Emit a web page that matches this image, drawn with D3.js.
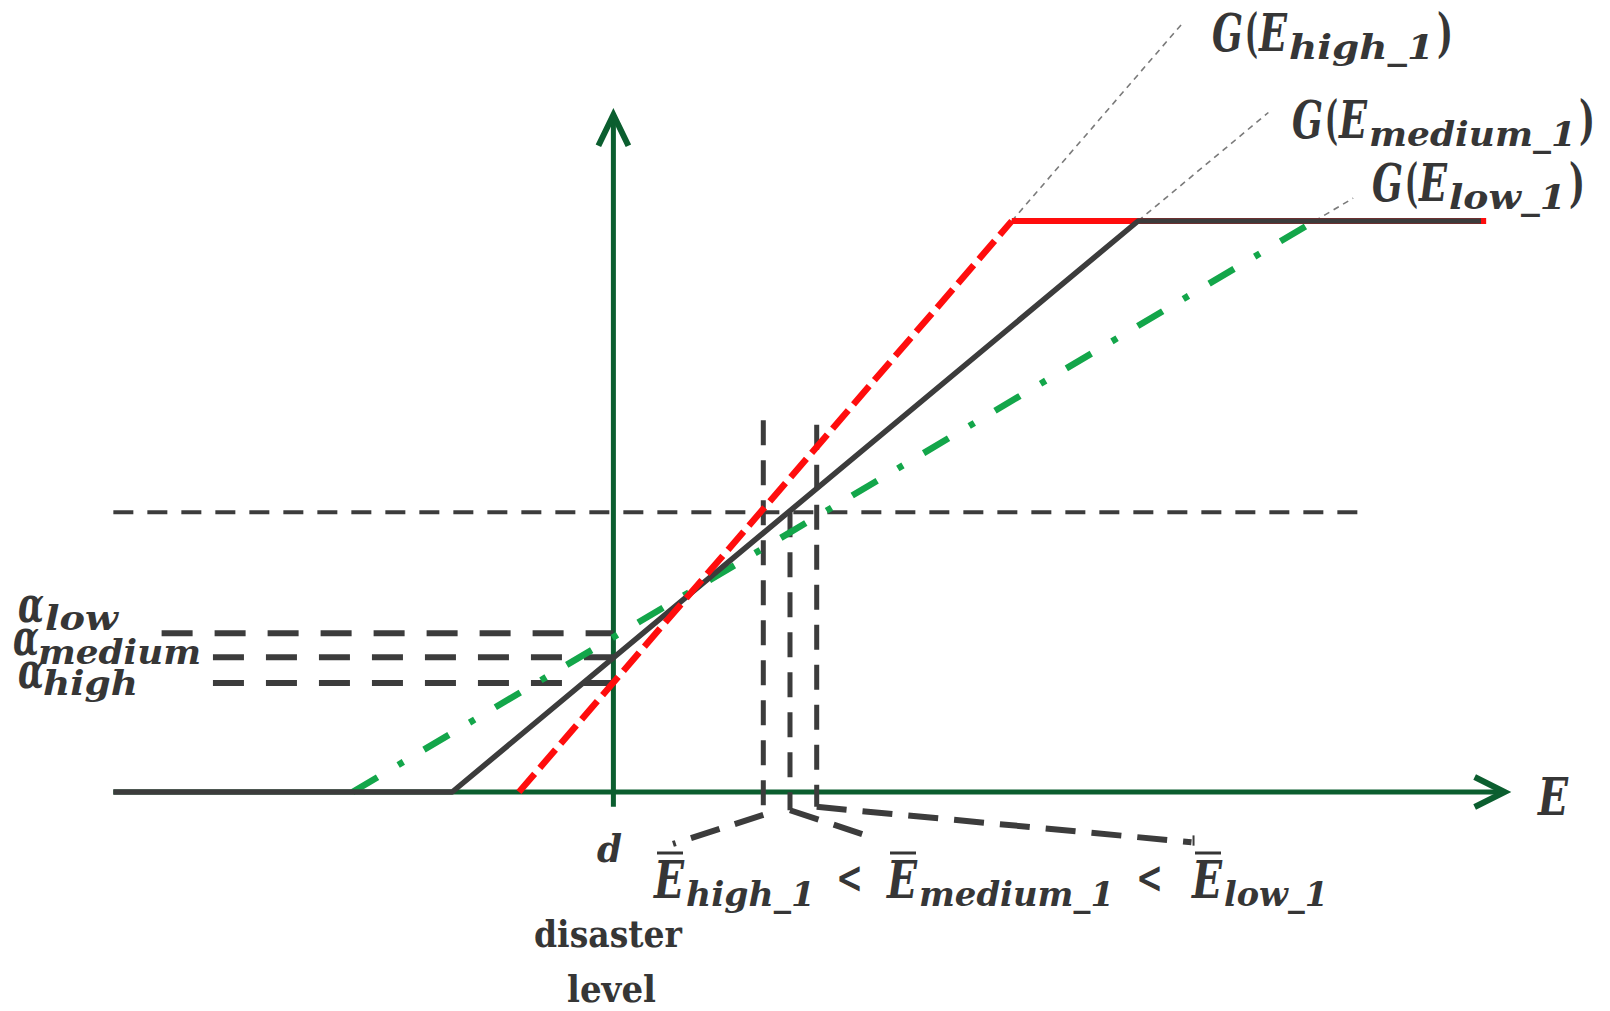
<!DOCTYPE html>
<html>
<head>
<meta charset="utf-8">
<script src="https://cdn.jsdelivr.net/npm/d3@7"></script>
<style>
    body { margin: 0; background: #fff; }
    svg { display: block; }
    .math { font-family: "DejaVu Serif", serif; font-weight: bold; fill: #363636; }
</style>
</head>
<body>
<div id="chart"></div>
<script>
// E positions (x axis, d = 0) and G values (y axis, 0 .. 1 plateau)
const axisE = [-4.87, 8.68];
const axisG = [-0.026, 1.186];

// piecewise G(E) curves: E where G leaves 0, E where G reaches 1
const curveNames = ["high", "medium", "low"];
const startE = [-0.92, -1.57, -2.54];
const satE = [3.88, 5.11, 6.83];
const plateauEndE = [8.50, 8.45];      // red under black, black on top
const leftFlatE = -4.87;               // black line starts on the axis here
const extensionTopG = [1.35, 1.19, 1.04];

// disaster threshold and the alpha levels at E = d
const thresholdG = 0.49;
const thresholdEndE = 7.27;
const alphaG = [0.191, 0.236, 0.278];          // high, medium, low
const alphaStartE = [-3.90, -3.90, -4.40];

// E bar values where each curve crosses the threshold
const eBar = [1.46, 1.72, 1.98];
const eBarTopG = [0.651, 0.49, 0.643];
const eBarBottomG = [-0.040, -0.032, -0.026];
const bracketEndE = [0.58, 2.51, 5.63];
const bracketEndG = [-0.091, -0.079, -0.088];

const width = 1610;
const height = 1011;

const svg = d3.select("#chart")
    .append("svg")
    .attr("width", width)
    .attr("height", height);

const x = d3.scaleLinear().domain([-5, 9]).range([100, 1537.5]);
const y = d3.scaleLinear().domain([0, 1]).range([792, 221]);

const line = d3.line().x(d => x(d[0])).y(d => y(d[1]));

const axisColor = "#0b5e2f";
const darkGray = "#3c3c3c";

// axes
svg.append("path")
    .attr("d", line([[axisE[0], 0], [axisE[1] - 0.05, 0]]))
    .attr("stroke", axisColor).attr("stroke-width", 5).attr("fill", "none");
svg.append("path")
    .attr("d", line([[0, axisG[0]], [0, axisG[1] - 0.008]]))
    .attr("stroke", axisColor).attr("stroke-width", 5).attr("fill", "none");

// arrow heads (open chevrons)
const xTip = [x(axisE[1]), y(0)];
svg.append("path")
    .attr("d", `M${xTip[0] - 30},${xTip[1] - 15}L${xTip[0]},${xTip[1]}L${xTip[0] - 30},${xTip[1] + 15}`)
    .attr("stroke", axisColor).attr("stroke-width", 6).attr("fill", "none");
const yTip = [x(0), y(axisG[1])];
svg.append("path")
    .attr("d", `M${yTip[0] - 15},${yTip[1] + 31}L${yTip[0]},${yTip[1]}L${yTip[0] + 15},${yTip[1] + 31}`)
    .attr("stroke", axisColor).attr("stroke-width", 6).attr("fill", "none");

// threshold line
svg.append("path")
    .attr("d", line([[axisE[0], thresholdG], [thresholdEndE, thresholdG]]))
    .attr("stroke", darkGray).attr("stroke-width", 4)
    .attr("stroke-dasharray", "20,14").attr("fill", "none");

// alpha levels
svg.selectAll(".alpha")
    .data(alphaG)
    .enter()
    .append("path")
    .attr("class", "alpha")
    .attr("d", (d, i) => line([[alphaStartE[i], d], [0, d]]))
    .attr("stroke", darkGray).attr("stroke-width", 6)
    .attr("stroke-dasharray", "31,22").attr("fill", "none");

// vertical E bar lines
svg.selectAll(".ebar")
    .data(eBar)
    .enter()
    .append("path")
    .attr("class", "ebar")
    .attr("d", (d, i) => line([[d, eBarTopG[i]], [d, eBarBottomG[i]]]))
    .attr("stroke", darkGray).attr("stroke-width", 5)
    .attr("stroke-dasharray", "25,15").attr("fill", "none");

// brackets down to the labels
svg.selectAll(".bracket")
    .data(eBar)
    .enter()
    .append("path")
    .attr("class", "bracket")
    .attr("d", (d, i) => line([[d, eBarBottomG[i]], [bracketEndE[i], bracketEndG[i]]]))
    .attr("stroke", darkGray).attr("stroke-width", 6)
    .attr("stroke-dasharray", "30,16").attr("fill", "none");
svg.append("path")
    .attr("d", line([[bracketEndE[2] + 0.02, bracketEndG[2] + 0.012], [bracketEndE[2] + 0.02, bracketEndG[2] - 0.006]]))
    .attr("stroke", darkGray).attr("stroke-width", 2).attr("fill", "none");

// thin extensions of the slopes beyond saturation
svg.selectAll(".ext")
    .data(curveNames)
    .enter()
    .append("path")
    .attr("class", "ext")
    .attr("d", (d, i) => line([[satE[i], 1], [startE[i] + (satE[i] - startE[i]) * extensionTopG[i], extensionTopG[i]]]))
    .attr("stroke", "#7a7a7a").attr("stroke-width", 1.6)
    .attr("stroke-dasharray", "6,5").attr("fill", "none");

// low: green dash-dot
svg.append("path")
    .attr("d", line([[startE[2], 0], [satE[2], 1]]))
    .attr("stroke", "#13a64a").attr("stroke-width", 6.5)
    .attr("stroke-dasharray", "29,24,6,24").attr("fill", "none");

// high: red plateau (runs under black), red dashed slope
svg.append("path")
    .attr("d", line([[satE[0], 1], [plateauEndE[0], 1]]))
    .attr("stroke", "#ff0d0d").attr("stroke-width", 6).attr("fill", "none");

// medium: black solid
svg.append("path")
    .attr("d", line([[leftFlatE, 0], [startE[1], 0], [satE[1], 1], [plateauEndE[1], 1]]))
    .attr("stroke", darkGray).attr("stroke-width", 5.5)
    .attr("stroke-linejoin", "round").attr("fill", "none");

svg.append("path")
    .attr("d", line([[startE[0], 0], [satE[0], 1]]))
    .attr("stroke", "#ff0d0d").attr("stroke-width", 6.5)
    .attr("stroke-dasharray", "24,8").attr("fill", "none");

// text helpers: one <text> per label, one fitted <tspan> per piece
function label(pieces) {
    const t = svg.append("text").attr("class", "math");
    pieces.forEach(p => {
        t.append("tspan")
            .attr("x", p[1])
            .attr("y", p[3])
            .attr("font-size", p[4])
            .attr("font-style", p[5] ? "italic" : "normal")
            .attr("textLength", p[2])
            .attr("lengthAdjust", "spacingAndGlyphs")
            .text(p[0]);
    });
    return t;
}

function gLabel(x0, base, sub, subW) {
    label([
        ["G", x0, 31, base, 52, true],
        ["(", x0 + 33, 13, base, 52, false],
        ["E", x0 + 47, 28, base, 52, true],
        [sub, x0 + 77, subW, base + 8, 34, true],
        [")", x0 + 80 + subW, 16, base, 52, false]
    ]);
}

gLabel(1212, 51, "high_1", 145);
gLabel(1292, 138, "medium_1", 207);
gLabel(1372, 201, "low_1", 117);

function eBarLabel(x0, sub, subW) {
    label([
        ["E", x0, 30, 898, 52, true],
        [sub, x0 + 32, subW, 906, 34, true]
    ]);
    svg.append("line")
        .attr("x1", x0 + 3).attr("x2", x0 + 29)
        .attr("y1", 853).attr("y2", 853)
        .attr("stroke", "#363636").attr("stroke-width", 3);
}

eBarLabel(654, "high_1", 129);
label([["<", 836, 27, 893, 44, false]]);
eBarLabel(887, "medium_1", 195);
label([["<", 1136, 27, 893, 44, false]]);
eBarLabel(1192, "low_1", 104);

// alpha labels
label([["α", 18, 26, 622, 50, true], ["low", 45, 73, 630, 34, true]]);
label([["α", 13, 26, 655, 50, true], ["medium", 38, 163, 664, 34, true]]);
label([["α", 18, 26, 688, 50, true], ["high", 43, 95, 695, 34, true]]);

// axis labels
label([["E", 1538, 30, 815, 52, true]]);
label([["d", 597, 25, 862, 38, true]]);
label([["disaster", 534, 148, 947, 37, false]]);
label([["level", 567, 89, 1002, 37, false]]);
</script>
</body>
</html>
